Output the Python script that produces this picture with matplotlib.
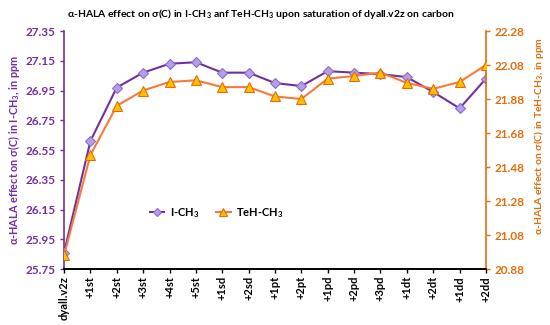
import numpy as np
import matplotlib
matplotlib.use('Agg')
import matplotlib.pyplot as plt

plt.rcParams['font.family'] = ['Lato', 'DejaVu Sans']
plt.rcParams['font.weight'] = 'bold'
plt.rcParams['mathtext.fontset'] = 'custom'
plt.rcParams['mathtext.rm'] = 'Lato:bold'
plt.rcParams['mathtext.it'] = 'Lato:bold'
plt.rcParams['mathtext.bf'] = 'Lato:bold'

labels = ['dyall.v2z', '+1st', '+2st', '+3st', '+4st', '+5st', '+1sd', '+2sd',
          '+1pt', '+2pt', '+1pd', '+2pd', '+3pd', '+1dt', '+2dt', '+1dd', '+2dd']
i_ch3 = [25.86, 26.61, 26.97, 27.07, 27.13, 27.14, 27.07, 27.07,
         27.00, 26.98, 27.08, 27.07, 27.06, 27.04, 26.94, 26.83, 27.03]
teh_ch3 = [20.96, 21.55, 21.84, 21.93, 21.98, 21.99, 21.95, 21.95,
           21.895, 21.88, 22.00, 22.015, 22.035, 21.975, 21.94, 21.98, 22.08]

left_ticks = [25.75, 25.95, 26.15, 26.35, 26.55, 26.75, 26.95, 27.15, 27.35]
right_ticks = [20.88, 21.08, 21.28, 21.48, 21.68, 21.88, 22.08, 22.28]

purple = '#7030A0'
orange = '#E46C0A'

fig = plt.figure(figsize=(5.5, 3.25), dpi=100)
ax = fig.add_axes([0.1164, 0.1723, 0.7672, 0.7323])
ax2 = ax.twinx()

x = np.arange(len(labels))
l1, = ax.plot(x, i_ch3, color=purple, lw=1.5, marker='D', ms=5,
              mfc='#B4A0E6', mec='#8A6CC8', mew=0.8, label='I-CH$_3$', zorder=3)
l2, = ax2.plot(x, teh_ch3, color='#F47B3C', lw=1.5, marker='^', ms=6.5,
               mfc='#FFC000', mec='#E46C0A', mew=0.8, label='TeH-CH$_3$', zorder=3)

ax.set_xlim(0, len(labels) - 1)
ax.set_ylim(25.75, 27.35)
ax2.set_ylim(20.88, 22.28)
ax.set_xticks(x)
ax.set_xticklabels(labels, rotation=90, fontsize=8, fontweight='bold')
ax.set_yticks(left_ticks)
ax.set_yticklabels(['%.2f' % v for v in left_ticks], fontsize=8.5, color=purple)
ax2.set_yticks(right_ticks)
ax2.set_yticklabels(['%.2f' % v for v in right_ticks], fontsize=8.5, color=orange)

ax.tick_params(axis='y', colors=purple, length=3, width=1, pad=3)
ax.tick_params(axis='x', length=3, width=1, pad=2)
ax2.tick_params(axis='y', colors=orange, length=3, width=1)

for a in (ax, ax2):
    a.spines['top'].set_visible(False)
ax.spines['left'].set_color(purple)
ax.spines['right'].set_visible(False)
ax2.spines['left'].set_visible(False)
ax2.spines['right'].set_color(orange)
ax2.spines['bottom'].set_color('black')
for a in (ax, ax2):
    a.spines['left'].set_linewidth(1.2)
    a.spines['right'].set_linewidth(1.2)
    a.spines['bottom'].set_linewidth(1.2)

ax.set_ylabel('α-HALA effect on σ(C) in I-CH$_3$, in ppm', color=purple,
              fontsize=7.8, fontweight='bold')
ax2.set_ylabel('α-HALA effect on σ(C) in TeH-CH$_3$, in ppm', color=orange,
               fontsize=7.5, fontweight='bold')
ax.yaxis.set_label_coords(-0.1, 0.50)
ax2.yaxis.set_label_coords(1.108, 0.56)

ax.set_title('α-HALA effect on σ(C) in I-CH$_3$ anf TeH-CH$_3$ upon saturation of dyall.v2z on carbon',
             fontsize=7.5, fontweight='bold', pad=10, x=0.465)

leg = ax.legend(handles=[l1, l2], loc='center left', bbox_to_anchor=(0.18, 0.235),
                ncol=2, frameon=False, fontsize=8, handlelength=1.3,
                handletextpad=0.5, columnspacing=1.5, markerscale=0.8)

fig.savefig('out.png', dpi=100)
